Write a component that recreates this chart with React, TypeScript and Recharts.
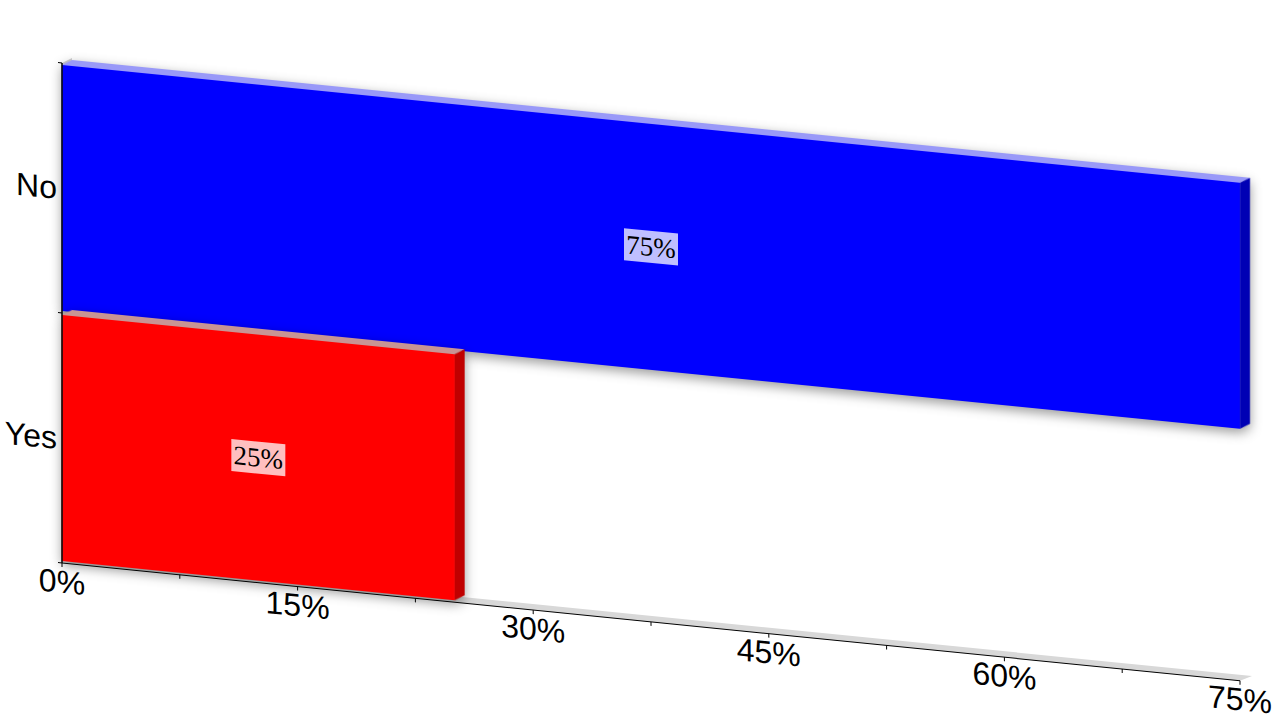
import React from 'react';
import { BarChart, Bar, Cell, XAxis, YAxis, LabelList, ReferenceArea } from 'recharts';

const categories = ['No', 'Yes'];
const shares = [75, 25];
const xTicks = [0, 7.5, 15, 22.5, 30, 37.5, 45, 52.5, 60, 67.5, 75];
const labelledTicks = [0, 15, 30, 45, 60, 75];

const barColors = ['#0000ff', '#ff0000'];
const topColors = ['#9999f8', '#c89494'];
const sideColors = ['#0000b4', '#c00000'];

const chartData = categories.map((name, i) => ({ name, value: shares[i] }));

// depth of the fake 3D faces
const DX = 10;
const DY = -6;

const pts = (list: number[][]) => list.map((p) => p.join(',')).join(' ');

const Bar3D = (props: any) => {
  const { x, y, width, height, index } = props;
  return (
    <g style={{ filter: 'drop-shadow(0px 4px 6px rgba(0,0,0,0.4))' }}>
      <polygon
        points={pts([[x, y], [x + DX, y + DY], [x + width + DX, y + DY], [x + width, y]])}
        fill={topColors[index]}
      />
      <polygon
        points={pts([[x + width, y], [x + width + DX, y + DY], [x + width + DX, y + height + DY], [x + width, y + height]])}
        fill={sideColors[index]}
      />
      <rect x={x} y={y} width={width} height={height} fill={props.fill} />
    </g>
  );
};

// grey back wall and floor, plus the ticks between the categories
const Walls = (props: any) => {
  const { x, y, width, height } = props;
  const bottom = y + height;
  const boundaries = categories.map((_, i) => y + (height * i) / categories.length).concat(bottom);
  return (
    <g>
      <polygon
        points={pts([[x, y], [x + DX, y + DY], [x + DX, bottom + DY], [x, bottom]])}
        fill="#d0d0d0"
      />
      <polygon
        points={pts([[x, bottom], [x + DX, bottom + DY], [x + width + DX + 2, bottom + DY], [x + width, bottom]])}
        fill="#d8d8d8"
      />
      {boundaries.map((b) => (
        <line key={b} x1={x - 4} x2={x} y1={b} y2={b} stroke="#000" strokeWidth={1} />
      ))}
    </g>
  );
};

const ValueLabel = (props: any) => {
  const { x, y, width, height, value } = props;
  const cx = x + width / 2;
  const cy = y + height / 2;
  return (
    <g>
      <rect x={cx - 27} y={cy - 16} width={54} height={32} fill="#fff" fillOpacity={0.75} />
      <text
        x={cx}
        y={cy}
        textAnchor="middle"
        dominantBaseline="central"
        fontFamily="'Liberation Serif', serif"
        fontSize={27}
        fill="#000"
      >
        {`${value}%`}
      </text>
    </g>
  );
};

export default function App() {
  return (
    <div style={{ position: 'fixed', left: 0, top: 0, width: 1280, height: 720, overflow: 'hidden', background: '#fff' }}>
      <div style={{ width: 1280, height: 640, transform: 'skewY(5.71deg)', transformOrigin: '62px 63px' }}>
        <BarChart
          width={1280}
          height={640}
          data={chartData}
          layout="vertical"
          barCategoryGap={2}
          margin={{ top: 63, right: 40, bottom: 0, left: 0 }}
          style={{ fontFamily: "'Liberation Sans', sans-serif" }}
        >
          <XAxis
            type="number"
            domain={[0, 75]}
            ticks={xTicks}
            interval={0}
            height={77}
            tickSize={4}
            tickMargin={3}
            axisLine={{ stroke: '#000', strokeWidth: 1 }}
            tickLine={{ stroke: '#000' }}
            tick={{ fill: '#000', fontSize: 32 }}
            tickFormatter={(v: number) => (labelledTicks.includes(v) ? `${v}%` : '')}
          />
          <YAxis
            type="category"
            dataKey="name"
            width={62}
            tickLine={false}
            tickSize={0}
            tickMargin={5}
            axisLine={{ stroke: '#000', strokeWidth: 1.5 }}
            tick={{ fill: '#000', fontSize: 32 }}
          />
          <ReferenceArea x1={0} x2={75} shape={<Walls />} ifOverflow="visible" />
          <Bar dataKey="value" isAnimationActive={false} shape={<Bar3D />}>
            {chartData.map((d, i) => (
              <Cell key={d.name} fill={barColors[i]} />
            ))}
            <LabelList dataKey="value" content={<ValueLabel />} />
          </Bar>
        </BarChart>
      </div>
    </div>
  );
}
